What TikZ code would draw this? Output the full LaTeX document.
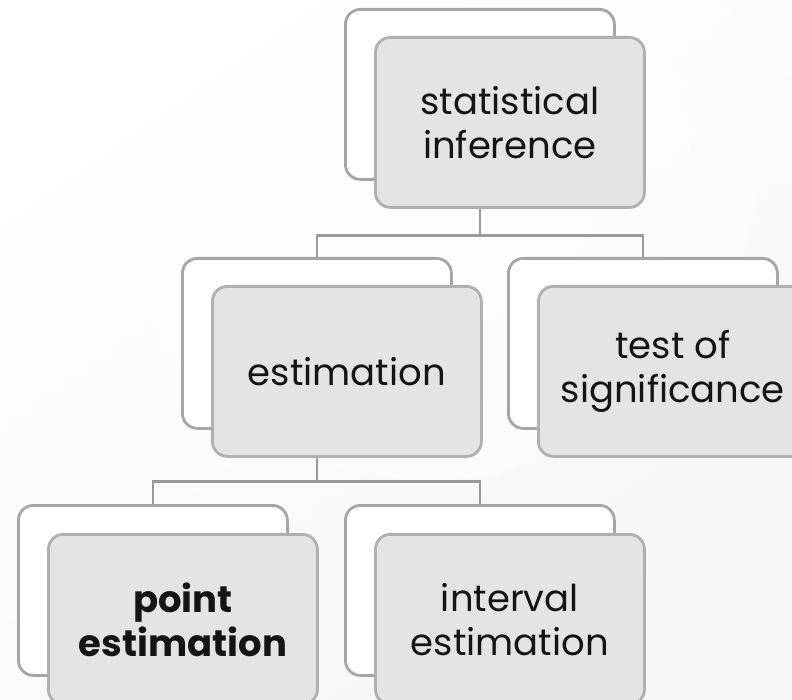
\documentclass[tikz,border=0pt]{standalone}
\usepackage{fontspec}
\setmainfont{Poppins}
\definecolor{edgegray}{HTML}{A6A6A6}
\definecolor{frontedge}{HTML}{B0B0B0}
\definecolor{linkgray}{HTML}{9A9A9A}
\definecolor{frontfill}{HTML}{E4E4E4}
\definecolor{inkblack}{HTML}{141414}
\definecolor{bgedge}{HTML}{F6F6F6}
\begin{document}
\begin{tikzpicture}[x=1pt,y=-1pt,
  backbox/.style={draw=edgegray, line width=2.8pt, fill=white, rounded corners=15pt,
    minimum width=269pt, minimum height=170pt, inner sep=0pt, anchor=north west},
  frontbox/.style={draw=frontedge, line width=2.8pt, fill=frontfill, rounded corners=15pt,
    minimum width=269pt, minimum height=170pt, inner sep=0pt, anchor=north west,
    align=center, text=inkblack, font=\fontsize{37}{44}\selectfont},
  link/.style={draw=linkgray, line width=2.8pt}]
  % page and soft backdrop
  \useasboundingbox (0,0) rectangle (792,700);
  \begin{scope}
    \clip (0,0) rectangle (792,700);
    \shade[top color=white, bottom color=bgedge, shading angle=35] (0,0) rectangle (792,700);
    \fill[white, opacity=0.35] (430,150) circle (330);
    \fill[white, opacity=0.35] (430,150) circle (260);
    \fill[white, opacity=0.35] (430,150) circle (180);
  \end{scope}

  \begin{scope}
    \clip (0,0) rectangle (792,700);
    % boxes: a white card behind each grey card
    \node[backbox]  (sib) at (344,8) {};
    \node[frontbox] (sif) at (374,36) {statistical\\inference};

    \node[backbox]  (estb) at (181,257) {};
    \node[frontbox] (estf) at (211,285) {estimation};

    \node[backbox]  (tosb) at (507,257) {};
    \node[frontbox] (tosf) at (537,285) {test of\\significance};

    \node[backbox]  (peb) at (17,504) {};
    \node[frontbox] (pef) at (47,533) {\bfseries point\\\bfseries estimation};

    \node[backbox]  (ieb) at (344,504) {};
    \node[frontbox] (ief) at (374,533) {interval\\estimation};

    % tree connectors
    \draw[link] (sib.south |- sif.south) -- ++(0,27) -| (estb.north);
    \draw[link] (sib.south |- sif.south) -- ++(0,27) -| (tosb.north);
    \draw[link] (estb.south |- estf.south) -- ++(0,24) -| (peb.north);
    \draw[link] (estb.south |- estf.south) -- ++(0,24) -| (ieb.north);
  \end{scope}
\end{tikzpicture}
\end{document}
